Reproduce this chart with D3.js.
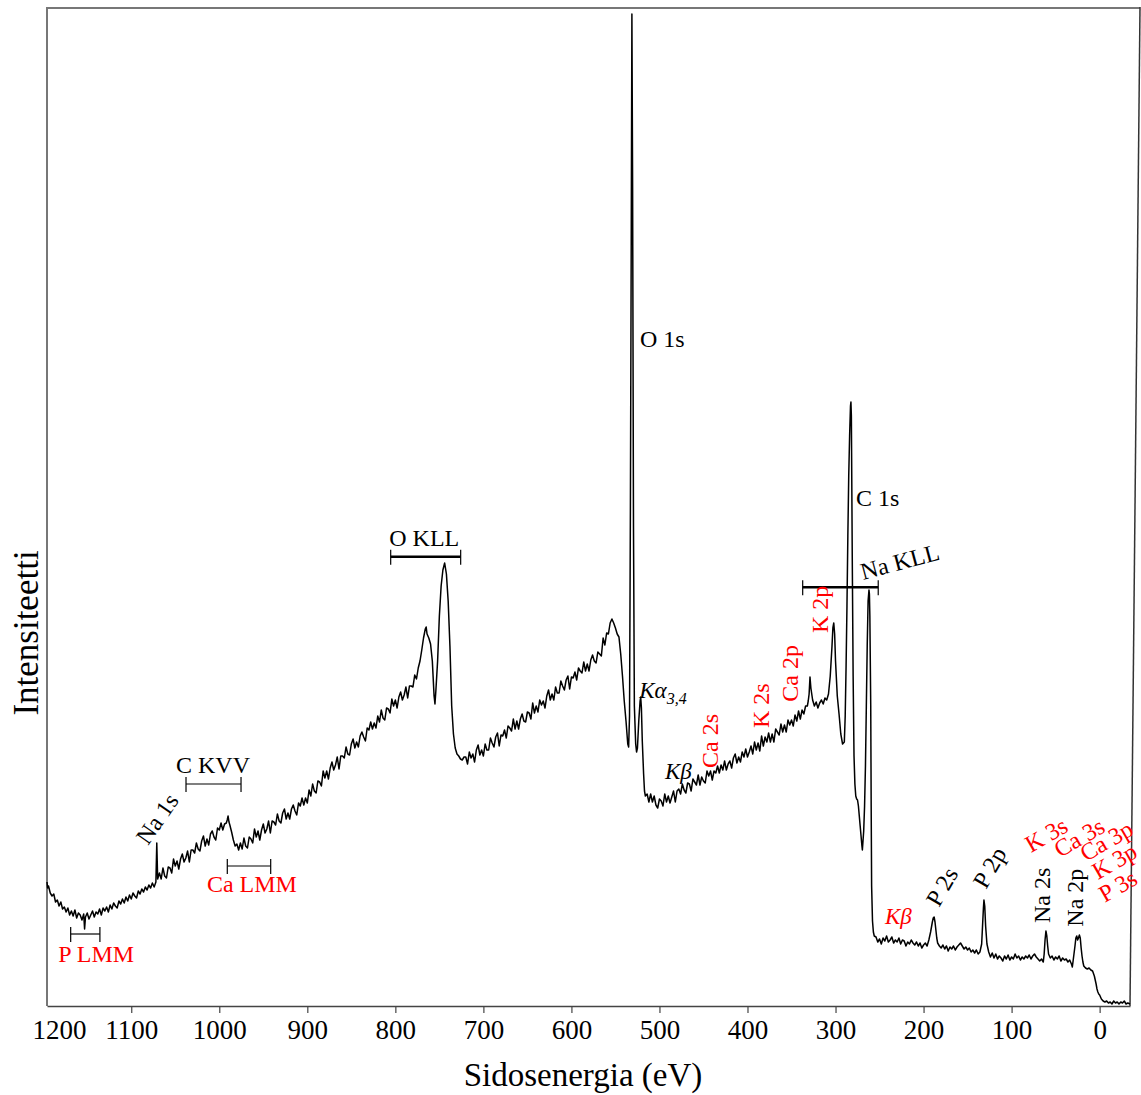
<!DOCTYPE html>
<html>
<head>
<meta charset="utf-8">
<script src="https://cdn.jsdelivr.net/npm/d3@7/dist/d3.min.js"></script>
<style>
  html, body { margin: 0; padding: 0; background: #fff; }
  svg { display: block; }
  text { font-family: "Liberation Serif", "Times New Roman", serif; }
</style>
</head>
<body>
<svg id="chart" width="1141" height="1095"></svg>
<script>
// XPS survey spectrum: [binding energy (eV), intensity (arb. units)]
const spectrum = [
  [1196,124],[1195,118],[1194,120],[1192,113],[1190,110],[1188,112],[1186,104],[1184,106],[1182,100],[1180,104],
  [1178,97],[1176,99],[1174,94],[1172,98],[1170,91],[1168,95],[1166,90],[1164,96],[1162,88],[1160,93],
  [1158,91],[1156,86],[1154,92],[1153,77],[1152,89],[1150,93],[1148,87],[1146,91],[1144,95],[1142,89],
  [1140,94],[1138,92],[1136,97],[1134,91],[1132,98],[1130,95],[1128,99],[1126,94],[1124,101],[1122,97],
  [1120,103],[1118,100],[1116,98],[1114,105],[1112,102],[1110,107],[1108,103],[1106,109],[1104,105],[1102,111],
  [1100,107],[1098,113],[1096,110],[1094,108],[1092,115],[1090,112],[1088,117],[1086,114],[1084,119],[1082,116],
  [1080,121],[1078,118],[1076,123],[1074,119],[1072,124],[1071,163],[1070,127],[1068,133],[1066,127],[1064,138],
  [1062,130],[1060,128],[1058,139],[1056,138],[1054,133],[1052,147],[1050,140],[1048,145],[1046,137],[1044,147],
  [1042,152],[1040,144],[1038,148],[1036,155],[1034,144],[1032,156],[1030,156],[1028,153],[1026,163],[1024,157],
  [1022,155],[1020,165],[1018,170],[1016,160],[1014,167],[1012,161],[1010,172],[1008,175],[1006,169],[1004,166],
  [1002,178],[1000,176],[998,183],[996,176],[994,182],[992,183],[991,186],[990,190],[989,184],[988,181],
  [986,174],[984,166],[982,160],[980,162],[978,156],[976,163],[974,157],[972,168],[970,160],[968,158],
  [966,169],[964,167],[962,163],[960,177],[958,169],[956,175],[954,166],[952,176],[950,182],[948,173],
  [946,177],[944,185],[942,173],[940,185],[938,184],[936,181],[934,192],[932,185],[930,183],[928,193],
  [926,197],[924,187],[922,193],[920,187],[918,197],[916,201],[914,195],[912,191],[910,203],[908,200],
  [906,208],[904,201],[902,208],[900,203],[898,216],[896,210],[894,222],[892,215],[890,213],[888,225],
  [886,224],[884,220],[882,235],[880,228],[878,235],[876,227],[874,238],[872,244],[870,236],[868,241],
  [866,249],[864,237],[862,250],[860,250],[858,248],[856,259],[854,252],[852,251],[850,262],[848,267],
  [846,258],[844,264],[842,259],[840,270],[838,274],[836,269],[834,265],[832,278],[830,276],[828,284],
  [826,277],[824,283],[822,278],[820,290],[818,284],[816,296],[814,288],[812,286],[810,298],[808,297],
  [806,293],[804,307],[802,300],[800,306],[798,298],[796,309],[794,314],[792,306],[790,311],[788,319],
  [786,308],[784,320],[782,320],[780,319],[778,331],[776,327],[774,338],[772,345],[770,356],[768,368],
  [766,377],[765,379],[764,372],[762,368],[760,362],[758,345],[756,310],[755,302],[754,315],[752,345],
  [750,390],[748,420],[746,436],[744,443],[742,432],[740,405],[738,360],[736,300],[734,272],[732,258],
  [730,252],[728,250],[726,247],[724,246],[722,249],[720,249],[718,242],[716,254],[714,248],[712,252],
  [710,244],[708,256],[706,261],[704,251],[702,256],[700,250],[698,262],[696,256],[694,256],[692,268],
  [690,263],[688,259],[686,269],[684,273],[682,260],[680,271],[678,270],[676,276],[674,268],[672,280],
  [670,278],[668,275],[666,287],[664,277],[662,285],[660,277],[658,287],[656,292],[654,285],[652,284],
  [650,294],[648,293],[646,287],[644,303],[642,293],[640,300],[638,294],[636,306],[634,301],[632,305],
  [630,298],[628,310],[626,316],[624,306],[622,312],[620,306],[618,319],[616,313],[614,313],[612,325],
  [610,320],[608,316],[606,326],[604,330],[602,317],[600,329],[598,328],[596,334],[594,326],[592,338],
  [590,335],[588,333],[586,344],[584,335],[582,342],[580,335],[578,346],[576,351],[574,345],[572,343],
  [570,354],[568,352],[566,350],[564,368],[562,361],[560,373],[558,372],[556,383],[554,387],[552,383],
  [550,378],[548,372],[546,369],[544,352],[542,330],[540,305],[538,285],[536,262],[535,259],[534,290],
  [533,500],[532,780],[531.3,992],[530.5,820],[529.5,480],[528.5,300],[527,262],[526,254],[525,258],[523.5,285],
  [522,305],[521.3,309],[520.5,298],[519.5,265],[518,232],[517,215],[516,210],[514,212],[512,204],[510,212],
  [508,204],[506,210],[504,201],[502,198],[500,207],[498,205],[496,200],[494,212],[492,204],[490,210],
  [488,203],[486,209],[484,215],[482,204],[480,215],[478,217],[476,212],[474,222],[472,216],[470,213],
  [468,223],[466,222],[464,215],[462,227],[460,224],[458,221],[456,231],[454,221],[452,229],[450,225],
  [448,223],[446,235],[444,230],[442,235],[440,226],[438,235],[436,233],[434,240],[432,233],[430,241],
  [428,236],[426,245],[424,236],[422,242],[420,245],[418,238],[416,248],[414,252],[412,243],[410,249],
  [408,244],[406,254],[404,249],[402,257],[400,249],[398,254],[396,260],[394,252],[392,264],[390,256],
  [388,263],[386,255],[384,270],[382,260],[380,269],[378,264],[376,273],[374,264],[372,272],[370,264],
  [368,277],[366,274],[364,271],[362,282],[360,274],[358,281],[356,274],[354,286],[352,281],[350,286],
  [348,280],[346,291],[344,285],[342,295],[340,287],[338,296],[336,292],[334,300],[332,300],[331,305],
  [330,312],[329,329],[328,318],[326,306],[324,300],[322,304],[320,298],[318,303],[316,306],[314,302],
  [312,308],[310,306],[308,312],[306,330],[304,360],[303,378],[302,383],[301,372],[300,345],[298,310],
  [296,292],[294,272],[292,262],[290,264],[289,290],[288,340],[287,400],[286,470],[285,530],[284,570],
  [283,600],[282.5,604],[282,590],[281,450],[280,330],[279,250],[278,222],[277,210],[276,207],[275,206],
  [274,200],[272,180],[270,160],[269.5,156],[268,175],[267,200],[266,240],[265,300],[264,360],[263,405],
  [262,416],[261.5,412],[261,390],[260,300],[259.5,200],[259,120],[258,85],[257,74],[256,70],[254,69],
  [252,64],[250,67],[248,62],[246,68],[244,65],[242,70],[240,64],[238,66],[236,69],[234,63],
  [232,66],[230,64],[228,68],[226,62],[224,66],[222,65],[220,60],[218,64],[216,62],[214,66],
  [212,63],[210,61],[208,64],[206,60],[204,63],[202,58],[200,61],[198,63],[196,60],[194,66],
  [192,74],[190,84],[189,88],[188,89],[187,84],[186,76],[185,68],[184,63],[182,60],[180,58],
  [178,61],[176,57],[174,60],[172,55],[170,59],[168,57],[166,60],[164,56],[162,59],[160,61],
  [158,63],[156,60],[154,57],[152,59],[150,56],[148,58],[146,54],[144,56],[142,53],[140,56],
  [138,52],[136,54],[134,62],[133,80],[132,98],[131.4,106],[130.5,100],[129.5,80],[128,62],[126,54],
  [124,49],[122,53],[120,48],[118,52],[116,47],[114,50],[112,48],[110,45],[108,50],[106,47],
  [104,51],[102,46],[100,49],[98,47],[96,52],[94,48],[92,50],[90,46],[88,49],[86,47],
  [84,50],[82,48],[80,51],[78,47],[76,50],[74,52],[72,49],[70,47],[68,45],[66,47],
  [64,44],[63,52],[62,66],[61,75],[60,70],[59,60],[58,52],[56,48],[54,50],[52,46],
  [50,49],[48,47],[46,50],[44,45],[42,48],[40,46],[38,47],[36,44],[34,46],[32,42],
  [31,39],[30,46],[28,60],[27,68],[26,70],[25,66],[24,68],[23,71],[22,68],[21,58],
  [20,50],[19,44],[18,40],[16,38],[14,37],[12,38],[10,36],[8,35],[6,30],[5,26],
  [4,22],[3,17],[2,14],[1,12],[0,11],[-1,9],[-2,7],[-3,6],[-4,5],[-6,4],
  [-8,5],[-10,3],[-12,4],[-14,2],[-16,5],[-18,3],[-20,4],[-22,2],[-24,4],[-26,3],
  [-28,5],[-30,2],[-32,3],[-34.5,2]
];

// Axis tick values and domain limits
const xTicks = [1200, 1100, 1000, 900, 800, 700, 600, 500, 400, 300, 200, 100, 0];
const xDomain = [1195.7, -34.5];
const yDomain = [0, 998];

// Peak labels: text, anchor energy, anchor intensity, rotation
const blackLabels = [
  { text: "O 1s",   e: 522.1,  c: 659,   rot: 0 },
  { text: "C 1s",   e: 276.8,  c: 500,   rot: 0 },
  { text: "Na KLL", e: 268.9,  c: 426,   rot: -15 },
  { text: "O KLL",  e: 806.9,  c: 460,   rot: 0 },
  { text: "C KVV",  e: 1049.2, c: 233,   rot: 0 },
  { text: "Na 1s",  e: 1081,   c: 160,   rot: -55 },
  { text: "P 2s",   e: 182.5,  c: 98,    rot: -60 },
  { text: "P 2p",   e: 129.1,  c: 116,   rot: -60 },
  { text: "Na 2s",  e: 56.4,   c: 83,    rot: -90 },
  { text: "Na 2p",  e: 19,     c: 79.3,  rot: -90 }
];
const redLabels = [
  { text: "Ca LMM", e: 1014,   c: 114.3, rot: 0 },
  { text: "P LMM",  e: 1182.9, c: 44.3,  rot: 0 },
  { text: "Ca 2s",  e: 433.9,  c: 238,   rot: -90 },
  { text: "K 2s",   e: 375.1,  c: 278,   rot: -90 },
  { text: "Ca 2p",  e: 343,    c: 304.3, rot: -90 },
  { text: "K 2p",   e: 309,    c: 373,   rot: -90 },
  { text: "K 3s",   e: 78,     c: 153,   rot: -30 },
  { text: "Ca 3s",  e: 45.1,   c: 148,   rot: -30 },
  { text: "Ca 3p",  e: 15.6,   c: 144,   rot: -30 },
  { text: "K 3p",   e: 1.9,    c: 126,   rot: -30 },
  { text: "P 3s",   e: -5.7,   c: 103,   rot: -30 }
];
// Satellite labels (italic)
const satelliteLabels = [
  { main: "Kα", sub: "3,4", e: 522.9, c: 308, color: "#000" },
  { main: "Kβ", sub: "",    e: 493.8, c: 227, color: "#000" },
  { main: "Kβ", sub: "",    e: 243.9, c: 82,  color: "#ff0000" }
];
// Energy-range brackets: from, to, intensity level, heavy line
const brackets = [
  { from: 805.3,  to: 725.8,  c: 449.3, heavy: true },
  { from: 337.3,  to: 251.5,  c: 418.7, heavy: true },
  { from: 1037.8, to: 975.3,  c: 222,   heavy: false },
  { from: 990.9,  to: 941.6,  c: 140,   heavy: false },
  { from: 1168.8, to: 1135.6, c: 72,    heavy: false }
];

const svg = d3.select("#chart");
const plot = { left: 47, right: 1130, top: 8, bottom: 1006, frameRight: 1140 };

const x = d3.scaleLinear().domain(xDomain).range([plot.left, plot.right]).clamp(true);
const y = d3.scaleLinear().domain(yDomain).range([plot.bottom, plot.top]);

// Frame
svg.append("line").attr("x1", plot.left).attr("x2", plot.frameRight).attr("y1", plot.top).attr("y2", plot.top)
  .attr("stroke", "#777").attr("stroke-width", 2);
svg.append("line").attr("x1", plot.left).attr("x2", plot.left).attr("y1", plot.top - 1).attr("y2", plot.bottom)
  .attr("stroke", "#777").attr("stroke-width", 2);
svg.append("line").attr("x1", plot.frameRight).attr("x2", plot.right).attr("y1", plot.top - 1).attr("y2", plot.bottom)
  .attr("stroke", "#333").attr("stroke-width", 1.5);

// Bottom axis
const xAxis = d3.axisBottom(x).tickValues(xTicks).tickFormat(d3.format("d"))
  .tickSizeInner(7).tickSizeOuter(0).tickPadding(7);
const gx = svg.append("g").attr("transform", `translate(0,${plot.bottom})`).call(xAxis);
gx.select(".domain").attr("stroke", "#444").attr("stroke-width", 1.5);
gx.selectAll(".tick line").attr("stroke", "#444").attr("stroke-width", 1.2);
gx.selectAll(".tick text").attr("font-size", 27).attr("fill", "#000")
  .attr("font-family", "Liberation Serif, Times New Roman, serif");
gx.selectAll(".tick").filter(d => d === 1200).select("line").remove();
gx.selectAll(".tick").filter(d => d === 1200).select("text")
  .attr("text-anchor", "start").attr("dx", -15);

// Axis titles
svg.append("text").attr("x", 583).attr("y", 1086)
  .attr("text-anchor", "middle").attr("font-size", 33).text("Sidosenergia (eV)");
svg.append("text").attr("transform", `translate(38,633) rotate(-90)`)
  .attr("text-anchor", "middle").attr("font-size", 35).text("Intensiteetti");

// Spectrum line
const line = d3.line().x(d => x(d[0])).y(d => y(d[1]));
svg.append("path").datum(spectrum).attr("d", line)
  .attr("fill", "none").attr("stroke", "#000").attr("stroke-width", 1.5)
  .attr("stroke-linejoin", "round");

// Brackets
brackets.forEach(b => {
  const g = svg.append("g").attr("stroke", "#000").attr("stroke-width", b.heavy ? 2.6 : 1.2);
  const yy = y(b.c);
  g.append("line").attr("x1", x(b.from)).attr("x2", x(b.to)).attr("y1", yy).attr("y2", yy);
  [b.from, b.to].forEach(e => {
    g.append("line").attr("x1", x(e)).attr("x2", x(e)).attr("y1", yy - 7).attr("y2", yy + 8)
      .attr("stroke-width", 1.2);
  });
});

// Peak labels
function drawLabels(list, color) {
  svg.selectAll(null).data(list).enter().append("text")
    .attr("transform", d => `translate(${x(d.e)},${y(d.c)}) rotate(${d.rot})`)
    .attr("font-size", 24).attr("fill", color).text(d => d.text);
}
drawLabels(blackLabels, "#000");
drawLabels(redLabels, "#ff0000");

satelliteLabels.forEach(s => {
  const t = svg.append("text").attr("x", x(s.e)).attr("y", y(s.c))
    .attr("font-size", 23).attr("font-style", "italic").attr("fill", s.color);
  t.append("tspan").text(s.main);
  if (s.sub) t.append("tspan").attr("font-size", 16).attr("dy", 6).text(s.sub);
});
</script>
</body>
</html>
